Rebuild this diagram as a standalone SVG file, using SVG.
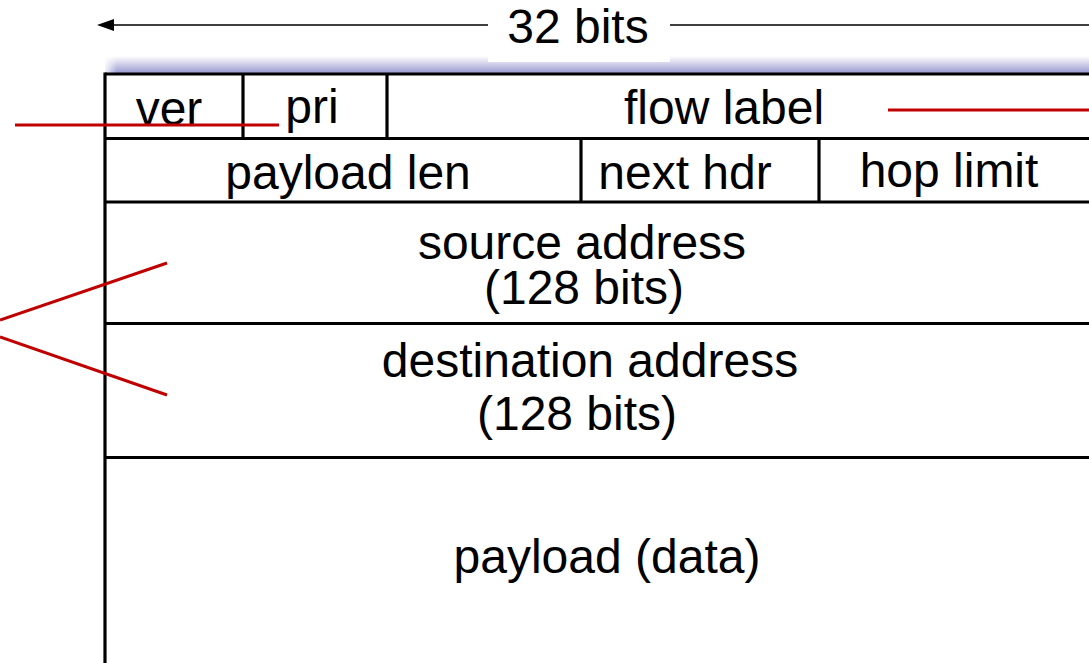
<svg xmlns="http://www.w3.org/2000/svg" width="1089" height="663" viewBox="0 0 1089 663">
  <style>
    .t { font-family: "Liberation Sans", Arial, sans-serif; font-size: 48px; fill: #000; text-anchor: middle; }
    .b { stroke: #000; stroke-width: 3.2; fill: none; }
    .r { stroke: #C00000; stroke-width: 3; fill: none; }
  </style>
  <defs>
    <linearGradient id="shadow" x1="0" y1="0" x2="0" y2="1">
      <stop offset="0" stop-color="#9b9bd2" stop-opacity="0"/>
      <stop offset="1" stop-color="#9b9bd2" stop-opacity="1"/>
    </linearGradient>
    <linearGradient id="shadowL" x1="0" y1="0" x2="1" y2="0">
      <stop offset="0" stop-color="#fff" stop-opacity="1"/>
      <stop offset="1" stop-color="#fff" stop-opacity="0"/>
    </linearGradient>
  </defs>
  <rect width="1089" height="663" fill="#fff"/>

  <!-- shadow band above header -->
  <rect x="105" y="56" width="984" height="17" fill="url(#shadow)"/>
  <rect x="103" y="56" width="14" height="17" fill="url(#shadowL)"/>

  <g id="connectors">
    <line x1="110" y1="25" x2="1089" y2="25" stroke="#000" stroke-width="1.6"/>
    <polygon points="97,25 114,19 114,31" fill="#000"/>
  </g>

  <g id="width-label">
    <rect x="488" y="0" width="182" height="62" fill="#fff"/>
    <text class="t" x="578" y="43">32 bits</text>
  </g>

  <g id="table">
    <line class="b" x1="105" y1="74" x2="1089" y2="74"/>
    <line class="b" x1="105" y1="72.4" x2="105" y2="663"/>
    <line class="b" x1="105" y1="138.5" x2="1089" y2="138.5"/>
    <line class="b" x1="105" y1="202" x2="1089" y2="202"/>
    <line class="b" x1="105" y1="323.5" x2="1089" y2="323.5"/>
    <line class="b" x1="105" y1="457.5" x2="1089" y2="457.5"/>
  </g>

  <g id="ver">
    <text class="t" x="169" y="125">ver</text>
  </g>
  <g id="pri">
    <line class="b" x1="243" y1="74" x2="243" y2="138.5"/>
    <text class="t" x="312" y="123">pri</text>
  </g>
  <g id="flow-label">
    <line class="b" x1="387" y1="74" x2="387" y2="138.5"/>
    <text class="t" x="724" y="124">flow label</text>
  </g>
  <g id="payload-len">
    <text class="t" x="348" y="189">payload len</text>
  </g>
  <g id="next-hdr">
    <line class="b" x1="581" y1="138.5" x2="581" y2="202"/>
    <text class="t" x="685" y="189">next hdr</text>
  </g>
  <g id="hop-limit">
    <line class="b" x1="819" y1="138.5" x2="819" y2="202"/>
    <text class="t" x="949" y="187">hop limit</text>
  </g>
  <g id="source-address">
    <text class="t" x="582" y="259">source address</text>
    <text class="t" x="584" y="304">(128 bits)</text>
  </g>
  <g id="destination-address">
    <text class="t" x="590" y="377">destination address</text>
    <text class="t" x="577" y="430">(128 bits)</text>
  </g>
  <g id="payload-data">
    <text class="t" x="607" y="573">payload (data)</text>
  </g>

  <g id="annotations">
    <line class="r" x1="15" y1="125" x2="279" y2="125"/>
    <line class="r" x1="888" y1="110" x2="1089" y2="110"/>
    <line class="r" x1="0" y1="320" x2="167" y2="263"/>
    <line class="r" x1="0" y1="337" x2="167" y2="395"/>
  </g>
</svg>
